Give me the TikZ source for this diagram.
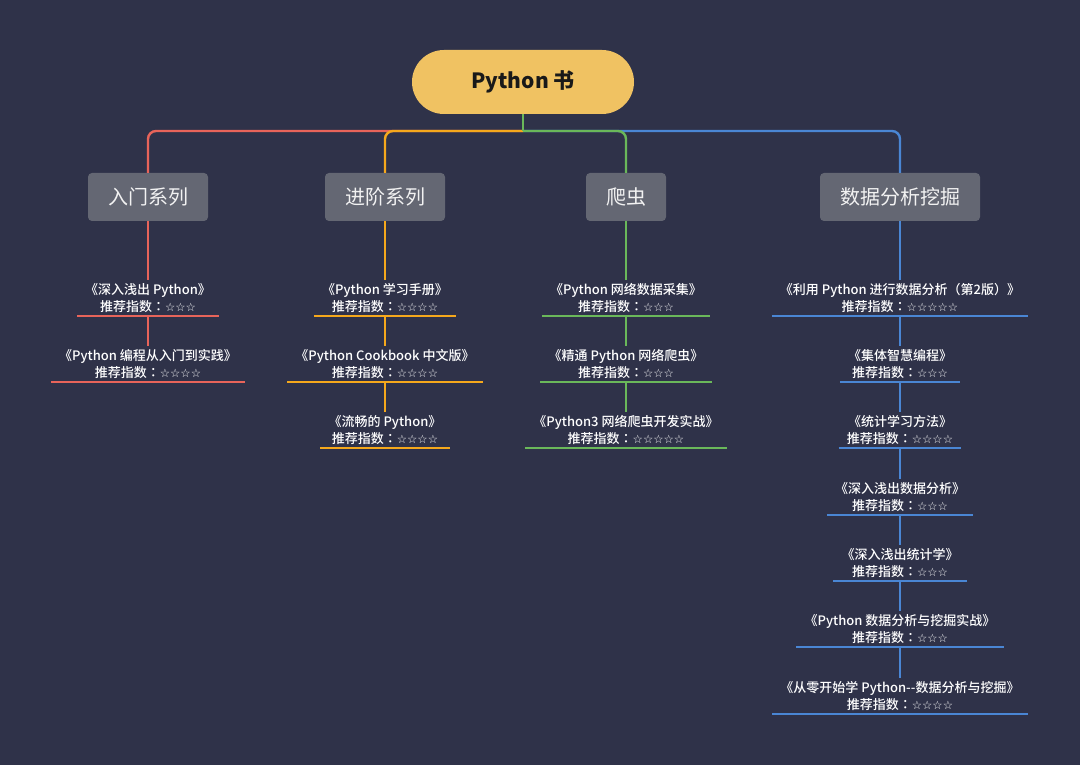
\documentclass[tikz,border=0pt]{standalone}
\usepackage{fontspec}
\setmainfont{Noto Sans CJK SC}
\newfontfamily\medfont{Noto Sans CJK SC Medium}
\newfontfamily\jpfont{Noto Sans CJK JP Medium}
\newfontfamily\starfont{DejaVu Sans}
\newcommand{\rate}[1]{推荐指数{\jpfont ：}{\starfont\bfseries\fontsize{11.5}{12}\selectfont #1}}
\usepackage{tikz}
\usepackage{xcolor}
\definecolor{bg}{HTML}{2F3249}
\definecolor{rootfill}{HTML}{F0C262}
\definecolor{catfill}{HTML}{646773}
\definecolor{redline}{HTML}{E8645A}
\definecolor{orangeline}{HTML}{F5A81C}
\definecolor{greenline}{HTML}{6AB85A}
\definecolor{blueline}{HTML}{4A86D4}
\tikzset{
    root-box/.style = {fill=rootfill, rounded corners=32pt, minimum width=222pt, minimum height=64pt, text=black!90, font=\fontsize{21}{24}\selectfont\bfseries},
    cat-box/.style = {fill=catfill, rounded corners=4pt, minimum height=48pt, inner xsep=20pt, text=white!95!black, font=\fontsize{20}{24}\selectfont},
    leaf/.style = {anchor=south, align=center, inner xsep=8pt, inner ysep=3pt, text=white, font=\medfont\fontsize{13}{17}\selectfont,
        append after command={(\tikzlastnode.south west) edge[draw=#1, line width=2.4pt] (\tikzlastnode.south east)}},
    link/.style = {draw=#1, line width=2.4pt},
}

\begin{document}
\begin{tikzpicture}[x=1pt, y=-1pt]
\fill[bg] (0,0) rectangle (1080,765);

\node[root-box] (root) at (523,82) {Python 书};
\coordinate (hub) at (523,131);

\node[cat-box] (intro) at (148,197) {入门系列};
\node[cat-box] (adv) at (385,197) {进阶系列};
\node[cat-box] (spider) at (626,197) {爬虫};
\node[cat-box] (data) at (900,197) {数据分析挖掘};

% branches from the root
\draw[link=redline, rounded corners=8pt] (hub) -| (intro);
\draw[link=blueline, rounded corners=8pt] (hub) -| (data);
\draw[link=orangeline, rounded corners=8pt] (hub) -| (adv);
\draw[link=greenline, rounded corners=8pt] (hub) -| (spider);
\draw[link=greenline] (root) -- (hub);

% 入门系列
\node[leaf=redline] (intro1) at (148,316) {《深入浅出 Python》\\\rate{☆☆☆}};
\node[leaf=redline] (intro2) at (148,382) {《Python 编程从入门到实践》\\\rate{☆☆☆☆}};
\draw[link=redline] (intro) -- (intro1) -- (intro2);

% 进阶系列
\node[leaf=orangeline] (adv1) at (385,316) {《Python 学习手册》\\\rate{☆☆☆☆}};
\node[leaf=orangeline] (adv2) at (385,382) {《Python Cookbook 中文版》\\\rate{☆☆☆☆}};
\node[leaf=orangeline] (adv3) at (385,448) {《流畅的 Python》\\\rate{☆☆☆☆}};
\draw[link=orangeline] (adv) -- (adv1) -- (adv2) -- (adv3);

% 爬虫
\node[leaf=greenline] (spider1) at (626,316) {《Python 网络数据采集》\\\rate{☆☆☆}};
\node[leaf=greenline] (spider2) at (626,382) {《精通 Python 网络爬虫》\\\rate{☆☆☆}};
\node[leaf=greenline] (spider3) at (626,448) {《Python3 网络爬虫开发实战》\\\rate{☆☆☆☆☆}};
\draw[link=greenline] (spider) -- (spider1) -- (spider2) -- (spider3);

% 数据分析挖掘
\node[leaf=blueline] (data1) at (900,316) {《利用 Python 进行数据分析（第2版）》\\\rate{☆☆☆☆☆}};
\node[leaf=blueline] (data2) at (900,382) {《集体智慧编程》\\\rate{☆☆☆}};
\node[leaf=blueline] (data3) at (900,448) {《统计学习方法》\\\rate{☆☆☆☆}};
\node[leaf=blueline] (data4) at (900,515) {《深入浅出数据分析》\\\rate{☆☆☆}};
\node[leaf=blueline] (data5) at (900,581) {《深入浅出统计学》\\\rate{☆☆☆}};
\node[leaf=blueline] (data6) at (900,647) {《Python 数据分析与挖掘实战》\\\rate{☆☆☆}};
\node[leaf=blueline] (data7) at (900,714) {《从零开始学 Python--数据分析与挖掘》\\\rate{☆☆☆☆}};
\draw[link=blueline] (data) -- (data1) -- (data2) -- (data3) -- (data4) -- (data5) -- (data6) -- (data7);
\end{tikzpicture}
\end{document}
